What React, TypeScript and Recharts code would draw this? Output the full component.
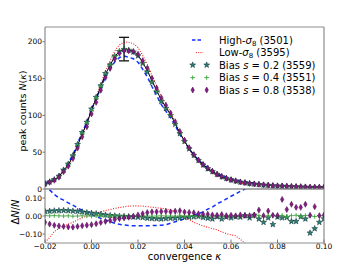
import React from 'react';
import { ComposedChart, Line, Scatter, XAxis, YAxis, ErrorBar, Legend } from 'recharts';

// convergence bins
const kappa = [
  -0.020, -0.018, -0.016, -0.014, -0.012, -0.010, -0.008, -0.006, -0.004, -0.002,
  0.000, 0.002, 0.004, 0.006, 0.008, 0.010, 0.012, 0.014, 0.016, 0.018,
  0.020, 0.022, 0.024, 0.026, 0.028, 0.030, 0.032, 0.034, 0.036, 0.038,
  0.040, 0.042, 0.044, 0.046, 0.048, 0.050, 0.052, 0.054, 0.056, 0.058,
  0.060, 0.062, 0.064, 0.066, 0.068, 0.070, 0.072, 0.074, 0.076, 0.078,
  0.080, 0.082, 0.084, 0.086, 0.088, 0.090, 0.092, 0.094, 0.096, 0.098,
  0.100,
];

// fiducial peak counts N(kappa)
const peakCounts = [
  7, 9.5, 12.5, 17, 25, 33, 44, 59, 75, 89,
  107, 123, 139, 156, 168, 180, 187, 190, 189, 187,
  182, 172, 161, 147, 134, 121, 111, 101, 89, 76,
  65, 55, 46, 39, 33, 28, 24, 20, 17, 14.5,
  12.5, 11, 9.5, 8.5, 7.5, 6.8, 6.2, 5.6, 5.1, 4.6,
  4.2, 3.9, 3.6, 3.3, 3.1, 2.9, 2.7, 2.5, 2.4, 2.3,
  2.2,
];

// relative differences DeltaN/N
const dHigh: (number | null)[] = [
  0.175, 0.145, 0.12, 0.10, 0.088, 0.073, 0.06, 0.045, 0.032, 0.02,
  0.008, -0.003, -0.013, -0.022, -0.031, -0.04, -0.046, -0.05, -0.053, -0.054,
  -0.054, -0.054, -0.054, -0.053, -0.053, -0.051, -0.048, -0.04, -0.032, -0.024,
  -0.016, -0.006, 0.004, 0.013, 0.023, 0.038, 0.05, 0.068, 0.08, 0.095,
  0.11, 0.122, 0.137, 0.15, 0.165, 0.18, null, null, null, null,
  null, null, null, null, null, null, null, null, null, null,
  null,
];

const dLow: (number | null)[] = [
  -0.145, -0.12, -0.085, -0.07, -0.057, -0.045, -0.035, -0.022, -0.01, 0.0,
  0.008, 0.016, 0.024, 0.03, 0.036, 0.042, 0.047, 0.051, 0.054, 0.056,
  0.056, 0.055, 0.052, 0.049, 0.046, 0.043, 0.04, 0.034, 0.024, 0.01,
  -0.006, -0.02, -0.035, -0.045, -0.055, -0.063, -0.07, -0.077, -0.088, -0.098,
  -0.105, -0.11, -0.13, -0.15, -0.17, null, null, null, null, null,
  null, null, null, null, null, null, null, null, null, null,
  null,
];

const dBias02 = [
  0.025, 0.027, 0.029, 0.030, 0.031, 0.030, 0.028, 0.026, 0.023, 0.019,
  0.016, 0.013, 0.009, 0.006, 0.003, 0.001, -0.001, -0.002, -0.003, -0.005,
  -0.006, -0.008, -0.012, -0.014, -0.015, -0.016, -0.014, -0.012, -0.012, -0.01,
  -0.008, -0.006, -0.004, -0.002, -0.008, -0.012, -0.016, -0.004, -0.016, -0.005,
  -0.01, -0.004, -0.006, 0.002, -0.01, 0.005, -0.016, -0.035, -0.01, -0.047,
  -0.005, -0.01, -0.008, -0.03, -0.03, -0.004, -0.016, -0.094, -0.07, -0.035,
  -0.015,
];

const dBias04 = [
  0.002, 0.001, 0.002, 0.001, 0.0, 0.001, -0.001, 0.0, 0.001, 0.0,
  -0.001, 0.0, 0.001, 0.0, -0.001, 0.0, 0.0, 0.001, 0.0, -0.001,
  0.0, 0.001, 0.0, -0.001, 0.0, 0.001, 0.0, 0.0, -0.001, 0.001,
  0.0, -0.001, 0.001, 0.0, 0.002, -0.001, 0.0, 0.001, -0.002, 0.001,
  0.0, 0.002, -0.001, 0.001, 0.003, -0.002, 0.002, -0.003, 0.001, 0.004,
  -0.002, 0.003, -0.003, 0.002, 0.004, -0.002, 0.003, 0.001, -0.003, 0.002,
  0.001,
];

const dBias08 = [
  -0.035, -0.045, -0.052, -0.055, -0.058, -0.061, -0.062, -0.058, -0.054, -0.051,
  -0.048, -0.043, -0.036, -0.03, -0.025, -0.02, -0.015, -0.011, -0.007, -0.001,
  0.006, 0.013, 0.019, 0.023, 0.023, 0.025, 0.026, 0.023, 0.027, 0.029,
  0.022, 0.02, 0.018, 0.012, 0.01, 0.01, 0.006, 0.004, 0.008, 0.002,
  0.004, 0.001, 0.006, 0.003, 0.002, 0.005, 0.033, 0.002, 0.028, 0.004,
  0.003, 0.092, 0.036, 0.065, 0.048, 0.048, 0.065, 0.004, 0.052, 0.002,
  0.005,
];

// error bar at the peak
const errKappa = [0.014];
const errCount = [190];
const errSize = [16];

// ticks
const xTicks = [-0.02, 0.0, 0.02, 0.04, 0.06, 0.08, 0.1];
const topYTicks = [0, 50, 100, 150, 200];
const bottomYTicks = [-0.1, -0.05, 0.0, 0.05, 0.1];

// legend
const legendCounts = [3501, 3595, 3559, 3551, 3538];
const biasValues = ['0.2', '0.4', '0.8'];

const FONT = 'DejaVu Sans, sans-serif';
const SPINE = '#8c8c8c';
const TICK = '#777';
const BLUE = '#1030ff';
const RED = '#ff2020';
const STAR_FILL = '#2a8079';
const DIAMOND_FILL = '#8a1a8a';
const PLUS = '#3da33d';

const scale = (n: number, r: number | null) => (r == null ? null : n * (1 + r));

const topRows = kappa.map((k, i) => ({
  k,
  fid: peakCounts[i],
  high: scale(peakCounts[i], dHigh[i]),
  low: scale(peakCounts[i], dLow[i]),
  s02: scale(peakCounts[i], dBias02[i]),
  s04: scale(peakCounts[i], dBias04[i]),
  s08: scale(peakCounts[i], dBias08[i]),
}));

const bottomRows = kappa.map((k, i) => ({
  k,
  high: dHigh[i],
  low: dLow[i],
  s02: dBias02[i],
  s04: dBias04[i],
  s08: dBias08[i],
}));

const errRows = errKappa.map((k, i) => ({ k, n: errCount[i], e: errSize[i] }));

const fmt2 = (v: number) => {
  const a = Math.abs(v) < 1e-9 ? 0 : v;
  return (a < 0 ? '\u2212' : '') + Math.abs(a).toFixed(2);
};

const starPoints = (cx: number, cy: number, R: number, r: number) => {
  const pts: string[] = [];
  for (let i = 0; i < 10; i++) {
    const rad = i % 2 === 0 ? R : r;
    const a = -Math.PI / 2 + (i * Math.PI) / 5;
    pts.push(`${cx + rad * Math.cos(a)},${cy + rad * Math.sin(a)}`);
  }
  return pts.join(' ');
};

const StarShape = (p: any) => {
  const { cx, cy } = p;
  if (cx == null || cy == null || isNaN(cy)) return <g />;
  return <polygon points={starPoints(cx, cy, 3.1, 1.3)} fill={STAR_FILL} stroke="#0b2a2a" strokeWidth={0.5} />;
};

const PlusShape = (p: any) => {
  const { cx, cy } = p;
  if (cx == null || cy == null || isNaN(cy)) return <g />;
  return (
    <g stroke={PLUS} strokeWidth={0.9}>
      <line x1={cx - 2.4} y1={cy} x2={cx + 2.4} y2={cy} />
      <line x1={cx} y1={cy - 2.2} x2={cx} y2={cy + 2.2} />
    </g>
  );
};

const DiamondShape = (p: any) => {
  const { cx, cy } = p;
  if (cx == null || cy == null || isNaN(cy)) return <g />;
  return (
    <polygon
      points={`${cx},${cy - 3} ${cx + 1.7},${cy} ${cx},${cy + 3} ${cx - 1.7},${cy}`}
      fill={DIAMOND_FILL}
      stroke="#3a0a3a"
      strokeWidth={0.5}
    />
  );
};

const NoShape = () => <g />;

const renderLegend = () => {
  const rows = [10, 22.6, 35, 47.6, 60];
  const sx1 = 7.7;
  const sx2 = 21.7;
  const tx = 34;
  const fs = 10;
  return (
    <svg width={150} height={72} style={{ overflow: 'visible', display: 'block' }}>
      <line x1={7} y1={rows[0]} x2={16} y2={rows[0]} stroke={BLUE} strokeWidth={1.5} strokeDasharray="3.5 2" />
      <line x1={11} y1={rows[1]} x2={18} y2={rows[1]} stroke={RED} strokeWidth={1} strokeDasharray="1 1.2" />
      <StarShape cx={sx1} cy={rows[2]} />
      <StarShape cx={sx2} cy={rows[2]} />
      <PlusShape cx={sx1} cy={rows[3]} />
      <PlusShape cx={sx2} cy={rows[3]} />
      <DiamondShape cx={sx1} cy={rows[4]} />
      <DiamondShape cx={sx2} cy={rows[4]} />
      <g fontFamily={FONT} fontSize={fs} fill="#000">
        <text x={tx} y={rows[0] + 3.6}>
          High-<tspan fontStyle="italic">σ</tspan>
          <tspan fontSize={7} dy={2}>8</tspan>
          <tspan dy={-2}>{` (${legendCounts[0]})`}</tspan>
        </text>
        <text x={tx} y={rows[1] + 3.6}>
          Low-<tspan fontStyle="italic">σ</tspan>
          <tspan fontSize={7} dy={2}>8</tspan>
          <tspan dy={-2}>{` (${legendCounts[1]})`}</tspan>
        </text>
        {biasValues.map((b, j) => (
          <text key={b} x={tx} y={rows[2 + j] + 3.6}>
            {'Bias '}
            <tspan fontStyle="italic">s</tspan>
            {` = ${b} (${legendCounts[2 + j]})`}
          </text>
        ))}
      </g>
    </svg>
  );
};

const TopYLabel = (props: any) => {
  const vb = props.viewBox || { y: 27, height: 162 };
  const cx = 22;
  const cy = vb.y + vb.height / 2 + 3;
  return (
    <text x={cx} y={cy} transform={`rotate(-90 ${cx} ${cy})`} textAnchor="middle" dominantBaseline="central" fontFamily={FONT} fontSize={9.5} fill="#000">
      peak counts <tspan fontStyle="italic">N</tspan>(<tspan fontStyle="italic">κ</tspan>)
    </text>
  );
};

const BottomYLabel = (props: any) => {
  const vb = props.viewBox || { y: 189, height: 54 };
  const cx = 15;
  const cy = vb.y + vb.height / 2 - 4;
  return (
    <text x={cx} y={cy} transform={`rotate(-90 ${cx} ${cy})`} textAnchor="middle" dominantBaseline="central" fontFamily={FONT} fontSize={10} fill="#000">
      Δ<tspan fontStyle="italic">N</tspan>/<tspan fontStyle="italic">N</tspan>
    </text>
  );
};

const XLabel = (props: any) => {
  const vb = props.viewBox || { x: 45, y: 243, width: 279, height: 27 };
  const cx = vb.x + vb.width / 2;
  const cy = vb.y + 17;
  return (
    <text x={cx} y={cy} textAnchor="middle" fontFamily={FONT} fontSize={10} fill="#000">
      convergence <tspan fontStyle="italic">κ</tspan>
    </text>
  );
};

const tickStyle = { fontSize: 7.5, fill: '#000', fontFamily: FONT };

export default function App() {
  return (
    <div style={{ position: 'absolute', left: 0, top: 0, width: 360, height: 270, background: '#fff' }}>
      <div style={{ position: 'absolute', left: 0, top: 0 }}>
        <ComposedChart width={360} height={270} data={topRows} margin={{ top: 0, right: 0, bottom: 0, left: 0 }}>
          <XAxis xAxisId="b" dataKey="k" type="number" domain={[-0.02, 0.1]} ticks={xTicks} orientation="bottom" height={81}
            tick={false} tickSize={-3.5} axisLine={{ stroke: SPINE, strokeWidth: 1.2 }} tickLine={{ stroke: TICK }} allowDataOverflow />
          <XAxis xAxisId="t" dataKey="k" type="number" domain={[-0.02, 0.1]} ticks={xTicks} orientation="top" height={27}
            tick={false} tickSize={-3.5} axisLine={{ stroke: SPINE, strokeWidth: 1.2 }} tickLine={{ stroke: TICK }} allowDataOverflow />
          <YAxis yAxisId="l" type="number" domain={[0, 220]} ticks={topYTicks} width={45} tickSize={2.5} tickMargin={0.5}
            tick={tickStyle} axisLine={{ stroke: SPINE, strokeWidth: 1.2 }} tickLine={{ stroke: TICK }} allowDataOverflow
            label={{ content: TopYLabel }} />
          <YAxis yAxisId="r" orientation="right" type="number" domain={[0, 220]} ticks={topYTicks} width={36} tick={false}
            tickSize={-3.5} axisLine={{ stroke: SPINE, strokeWidth: 1.2 }} tickLine={{ stroke: TICK }} allowDataOverflow />
          <Line xAxisId="b" yAxisId="l" dataKey="low" stroke={RED} strokeWidth={1.1} strokeDasharray="1 1.5" dot={false} isAnimationActive={false} />
          <Line xAxisId="b" yAxisId="l" dataKey="high" stroke={BLUE} strokeWidth={1.5} strokeDasharray="4 3" dot={false} isAnimationActive={false} />
          <Line xAxisId="b" yAxisId="l" dataKey="fid" stroke="#000" strokeWidth={1} dot={false} isAnimationActive={false} />
          <Scatter xAxisId="b" yAxisId="l" data={topRows} dataKey="s02" shape={StarShape} isAnimationActive={false} />
          <Scatter xAxisId="b" yAxisId="l" data={topRows} dataKey="s04" shape={PlusShape} isAnimationActive={false} />
          <Scatter xAxisId="b" yAxisId="l" data={topRows} dataKey="s08" shape={DiamondShape} isAnimationActive={false} />
          <Scatter xAxisId="b" yAxisId="l" data={errRows} dataKey="n" shape={NoShape} isAnimationActive={false}>
            <ErrorBar dataKey="e" direction="y" width={5} stroke="#000" strokeWidth={1.2} isAnimationActive={false} />
          </Scatter>
          <Legend content={renderLegend} layout="vertical" align="center" verticalAlign="middle"
            wrapperStyle={{ left: 185, top: 30, width: 150, height: 72, right: 'auto', bottom: 'auto' }} />
        </ComposedChart>
      </div>
      <div style={{ position: 'absolute', left: 0, top: 0 }}>
        <ComposedChart width={360} height={270} data={bottomRows} margin={{ top: 0, right: 0, bottom: 0, left: 0 }}>
          <XAxis xAxisId="b" dataKey="k" type="number" domain={[-0.02, 0.1]} ticks={xTicks} orientation="bottom" height={27}
            tickFormatter={fmt2} tick={tickStyle} tickSize={-3.5} tickMargin={3.8}
            axisLine={{ stroke: SPINE, strokeWidth: 1.2 }} tickLine={{ stroke: TICK }} allowDataOverflow
            label={{ content: XLabel }} />
          <XAxis xAxisId="t" dataKey="k" type="number" domain={[-0.02, 0.1]} ticks={xTicks} orientation="top" height={189}
            tick={false} tickSize={-3.5} axisLine={{ stroke: SPINE, strokeWidth: 1.2 }} tickLine={{ stroke: TICK }} allowDataOverflow />
          <YAxis yAxisId="l" type="number" domain={[-0.15, 0.15]} ticks={bottomYTicks} width={45} tickSize={2.5} tickMargin={0.5}
            tickFormatter={fmt2} tick={tickStyle} axisLine={{ stroke: SPINE, strokeWidth: 1.2 }} tickLine={{ stroke: TICK }} allowDataOverflow
            label={{ content: BottomYLabel }} />
          <YAxis yAxisId="r" orientation="right" type="number" domain={[-0.15, 0.15]} ticks={bottomYTicks} width={36} tick={false}
            tickSize={-3.5} axisLine={{ stroke: SPINE, strokeWidth: 1.2 }} tickLine={{ stroke: TICK }} allowDataOverflow />
          <Line xAxisId="b" yAxisId="l" dataKey="low" stroke={RED} strokeWidth={1.1} strokeDasharray="1 1.5" dot={false} isAnimationActive={false} />
          <Line xAxisId="b" yAxisId="l" dataKey="high" stroke={BLUE} strokeWidth={1.5} strokeDasharray="4 3" dot={false} isAnimationActive={false} />
          <Scatter xAxisId="b" yAxisId="l" data={bottomRows} dataKey="s02" shape={StarShape} isAnimationActive={false} />
          <Scatter xAxisId="b" yAxisId="l" data={bottomRows} dataKey="s04" shape={PlusShape} isAnimationActive={false} />
          <Scatter xAxisId="b" yAxisId="l" data={bottomRows} dataKey="s08" shape={DiamondShape} isAnimationActive={false} />
        </ComposedChart>
      </div>
    </div>
  );
}
